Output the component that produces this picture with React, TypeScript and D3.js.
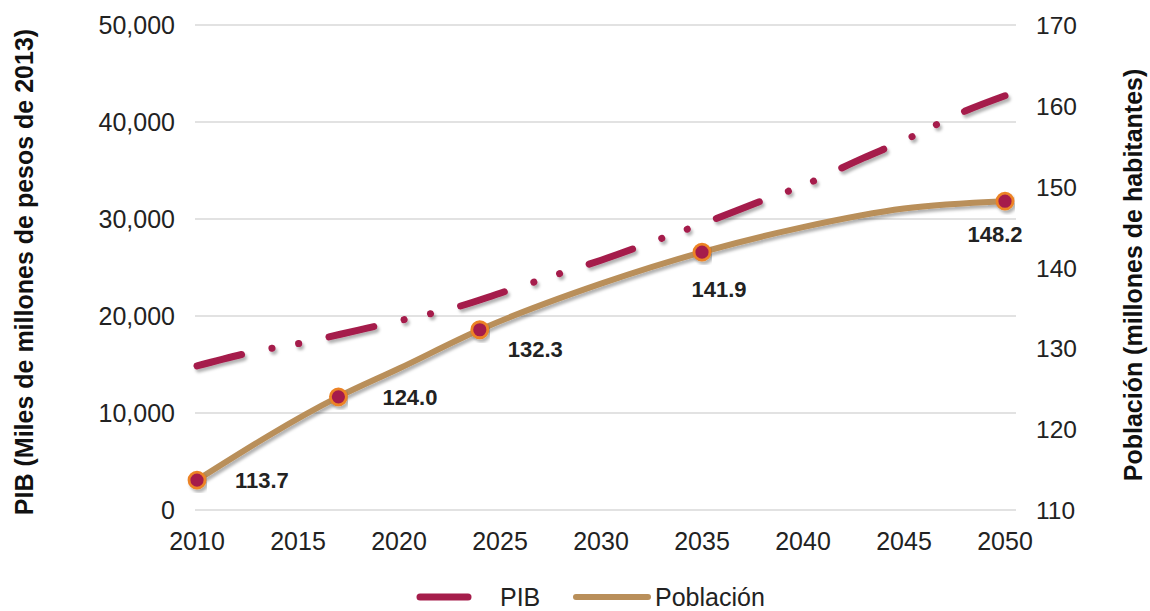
import React from "react";
import * as d3 from "d3";

const xTicks = [2010, 2015, 2020, 2025, 2030, 2035, 2040, 2045, 2050];
const leftTicks = [0, 10000, 20000, 30000, 40000, 50000];
const rightTicks = [110, 120, 130, 140, 150, 160, 170];

const pibYears = [2010, 2013, 2015, 2018, 2020, 2023, 2025, 2028, 2030, 2033, 2035, 2038, 2040, 2043, 2045, 2048, 2050];
const pibValues = [14850, 16400, 17150, 18550, 19500, 21000, 22350, 24400, 25750, 28000, 29500, 31900, 33450, 36300, 38100, 41100, 42700];

const popYears = [2010, 2017, 2020, 2024, 2030, 2035, 2040, 2045, 2050];
const popValues = [113.7, 124.0, 127.5, 132.3, 138.0, 141.9, 145.0, 147.3, 148.2];

const labelYears = [2010, 2017, 2024, 2035, 2050];
const labelValues = [113.7, 124.0, 132.3, 141.9, 148.2];
// label placement (dx, dy from marker, anchor)
const labelPlace: [number, number, string][] = [
  [38, 8, "start"],
  [44, 8, "start"],
  [28, 27, "start"],
  [17, 45, "middle"],
  [-10, 41, "middle"],
];

const legendItems = ["PIB", "Población"];

const PIB_COLOR = "#A51D4B";
const POP_COLOR = "#B98F5A";
const MARK_STROKE = "#EC8326";
const FONT = "'Liberation Sans', Arial, sans-serif";

export default function App() {
  const x = d3.scaleLinear().domain([2010, 2050]).range([197, 1005]);
  const yL = d3.scaleLinear().domain([0, 50000]).range([510, 25]);
  const yR = d3.scaleLinear().domain([110, 170]).range([510, 25]);

  const pibLine = d3
    .line<number>()
    .x((_, i) => x(pibYears[i]))
    .y((d) => yL(d))
    .curve(d3.curveMonotoneX);
  const popLine = d3
    .line<number>()
    .x((_, i) => x(popYears[i]))
    .y((d) => yR(d))
    .curve(d3.curveMonotoneX);

  const gx0 = x(2010) - 2;
  const gx1 = x(2050) + 11;

  return (
    <svg width={1150} height={611} style={{ position: "absolute", left: 0, top: 0, background: "#fff" }}>
      <defs>
        <filter id="sh" x="-10%" y="-20%" width="120%" height="150%">
          <feDropShadow dx="2" dy="3" stdDeviation="1.8" floodColor="#000" floodOpacity="0.3" />
        </filter>
      </defs>
      <rect x={0} y={0} width={1150} height={611} fill="#fff" />
      {leftTicks.map((t) => (
        <line key={t} x1={gx0} x2={gx1} y1={yL(t)} y2={yL(t)} stroke="#d9d9d9" strokeWidth={1.5} />
      ))}
      {leftTicks.map((t) => (
        <text key={t} x={175} y={yL(t) + 9} textAnchor="end" fontFamily={FONT} fontSize={25} fill="#222">
          {d3.format(",")(t)}
        </text>
      ))}
      {rightTicks.map((t) => (
        <text key={t} x={1036} y={yR(t) + 9} textAnchor="start" fontFamily={FONT} fontSize={24.5} fill="#222">
          {t}
        </text>
      ))}
      {xTicks.map((t) => (
        <text key={t} x={x(t)} y={550} textAnchor="middle" fontFamily={FONT} fontSize={25} fill="#222">
          {t}
        </text>
      ))}
      <text
        transform="translate(33,272) rotate(-90)"
        textAnchor="middle"
        fontFamily={FONT}
        fontSize={25}
        fontWeight="bold"
        fill="#111"
      >
        PIB (Miles de millones de pesos de 2013)
      </text>
      <text
        transform="translate(1142,275) rotate(-90)"
        textAnchor="middle"
        fontFamily={FONT}
        fontSize={25}
        fontWeight="bold"
        fill="#111"
      >
        Población (millones de habitantes)
      </text>

      <path
        d={pibLine(pibValues) || ""}
        fill="none"
        stroke={PIB_COLOR}
        strokeWidth={7}
        strokeLinecap="round"
        strokeDasharray="46,31,0.1,27,0.1,31"
        filter="url(#sh)"
      />
      <path
        d={popLine(popValues) || ""}
        fill="none"
        stroke={POP_COLOR}
        strokeWidth={6}
        strokeLinecap="round"
        filter="url(#sh)"
      />
      {labelYears.map((yr, i) => (
        <circle
          key={yr}
          cx={x(yr)}
          cy={yR(labelValues[i])}
          r={8}
          fill={PIB_COLOR}
          stroke={MARK_STROKE}
          strokeWidth={2.8}
          filter="url(#sh)"
        />
      ))}
      {labelYears.map((yr, i) => (
        <text
          key={yr}
          x={x(yr) + labelPlace[i][0]}
          y={yR(labelValues[i]) + labelPlace[i][1]}
          textAnchor={labelPlace[i][2] as any}
          fontFamily={FONT}
          fontSize={22}
          fontWeight="bold"
          fill="#222"
        >
          {labelValues[i].toFixed(1)}
        </text>
      ))}

      <line x1={420} x2={468} y1={597} y2={597} stroke={PIB_COLOR} strokeWidth={7} strokeLinecap="round" />
      <text x={500} y={606} fontFamily={FONT} fontSize={25} fill="#222">
        {legendItems[0]}
      </text>
      <line x1={576} x2={648} y1={597} y2={597} stroke={POP_COLOR} strokeWidth={6} strokeLinecap="round" />
      <text x={655} y={606} fontFamily={FONT} fontSize={25} fill="#222">
        {legendItems[1]}
      </text>
    </svg>
  );
}
